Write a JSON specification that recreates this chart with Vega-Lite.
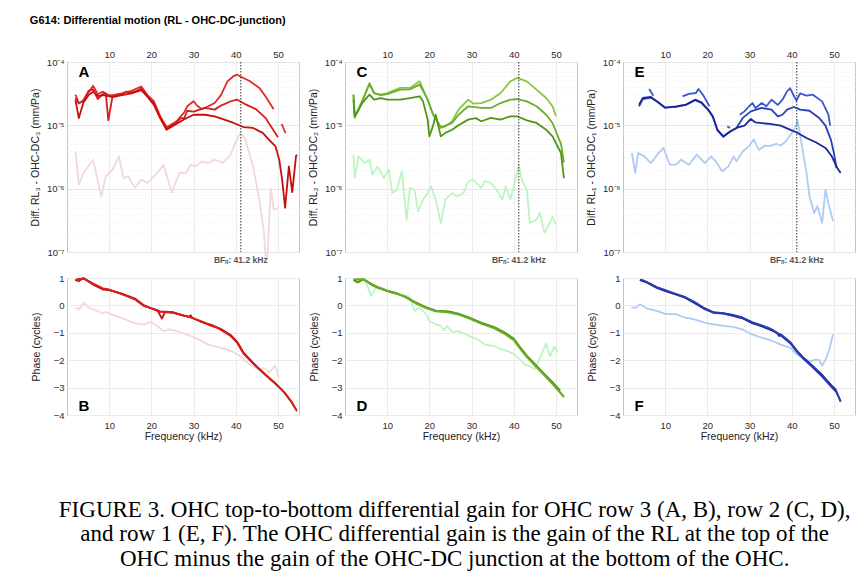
{
"$schema": "https://vega.github.io/schema/vega-lite/v6.json",
"background": "white",
"padding": {"left": 29, "top": 14, "right": 2, "bottom": 5},
"config": {
  "font": "Liberation Sans",
  "view": {"stroke": "#c4c4c4", "strokeWidth": 1},
  "axis": {"labelFont": "Liberation Sans", "labelFontSize": 9.5, "labelColor": "#2a2a2a", "titleFont": "Liberation Sans", "titleFontSize": 10.5, "titleFontWeight": "normal", "titleColor": "#222", "gridColor": "#ebebeb", "domain": false, "ticks": false, "labelPadding": 3, "titlePadding": 6, "labelOverlap": false},
  "line": {"strokeWidth": 1.8, "strokeJoin": "round", "clip": true}
},
"title": {"text": ["FIGURE 3. OHC top-to-bottom differential gain for OHC row 3 (A, B), row 2 (C, D),", "and row 1 (E, F). The OHC differential gain is the gain of the RL at the top of the", "OHC minus the gain of the OHC-DC junction at the bottom of the OHC."], "orient": "bottom", "anchor": "middle", "dx": 12, "font": "Liberation Serif", "fontSize": 23, "fontWeight": "normal", "color": "#000", "lineHeight": 24.5, "offset": 56},
"datasets": {
"top1": [
{"s":"A4","f":2,"v":3.9e-6},{"s":"A4","f":2.8,"v":1.16e-6},{"s":"A4","f":3.9,"v":1.77e-6},{"s":"A4","f":6.2,"v":2.87e-6},{"s":"A4","f":8.1,"v":7.6e-7},{"s":"A4","f":9.2,"v":1.57e-6},{"s":"A4","f":10.8,"v":2.0e-6},{"s":"A4","f":12.3,"v":3.24e-6},{"s":"A4","f":13.4,"v":1.47e-6},{"s":"A4","f":14.5,"v":1.57e-6},{"s":"A4","f":16.1,"v":1.03e-6},{"s":"A4","f":17.6,"v":1.39e-6},{"s":"A4","f":19.1,"v":1.23e-6},{"s":"A4","f":21.4,"v":1.77e-6},{"s":"A4","f":22.9,"v":2.39e-6},{"s":"A4","f":24.8,"v":8.8e-7},{"s":"A4","f":26.7,"v":1.77e-6},{"s":"A4","f":28.2,"v":1.77e-6},{"s":"A4","f":29.3,"v":2.39e-6},{"s":"A4","f":30.5,"v":2.25e-6},{"s":"A4","f":32,"v":2.7e-6},{"s":"A4","f":33.5,"v":2.54e-6},{"s":"A4","f":35,"v":2.87e-6},{"s":"A4","f":36.9,"v":2.54e-6},{"s":"A4","f":38.8,"v":3.44e-6},{"s":"A4","f":39.9,"v":5.3e-6},{"s":"A4","f":41.1,"v":7.6e-6},{"s":"A4","f":42.2,"v":6.3e-6},{"s":"A4","f":44.1,"v":2.25e-6},{"s":"A4","f":45.6,"v":6.7e-7},{"s":"A4","f":46.7,"v":2.0e-7},{"s":"A4","f":47.1,"v":8e-8},{"s":"A4","f":47.5,"v":8e-8},{"s":"A4","f":48.3,"v":1.0e-6},{"s":"A4","f":49,"v":4.66e-7},{"s":"A4","f":50,"v":4.95e-7},
{"s":"A1","f":2,"v":3.05e-5},{"s":"A1","f":2.8,"v":2.25e-5},{"s":"A1","f":3.9,"v":2.4e-5},{"s":"A1","f":5.1,"v":3.3e-5},{"s":"A1","f":6.2,"v":4.2e-5},{"s":"A1","f":7.3,"v":3.1e-5},{"s":"A1","f":8.5,"v":3.4e-5},{"s":"A1","f":9.8,"v":3.0e-5},{"s":"A1","f":10.8,"v":3.0e-5},{"s":"A1","f":13,"v":3.2e-5},{"s":"A1","f":15.3,"v":3.5e-5},{"s":"A1","f":17.6,"v":4.1e-5},{"s":"A1","f":19.1,"v":3.0e-5},{"s":"A1","f":20.6,"v":2.4e-5},{"s":"A1","f":22.1,"v":1.4e-5},{"s":"A1","f":23.6,"v":9.4e-6},{"s":"A1","f":24.4,"v":1.0e-5},{"s":"A1","f":25.9,"v":1.15e-5},{"s":"A1","f":27.8,"v":1.6e-5},{"s":"A1","f":28.5,"v":2.0e-5},{"s":"A1","f":30,"v":2.4e-5},{"s":"A1","f":31,"v":2.0e-5},{"s":"A1","f":32,"v":1.8e-5},{"s":"A1","f":33.5,"v":2.0e-5},{"s":"A1","f":35,"v":2.25e-5},{"s":"A1","f":36.5,"v":3.0e-5},{"s":"A1","f":38,"v":4.9e-5},{"s":"A1","f":39.5,"v":6.0e-5},{"s":"A1","f":40.3,"v":6.3e-5},{"s":"A1","f":41.8,"v":5.6e-5},{"s":"A1","f":43.3,"v":5.0e-5},{"s":"A1","f":45.6,"v":3.9e-5},{"s":"A1","f":47,"v":2.9e-5},{"s":"A1","f":49,"v":1.8e-5},
{"s":"A1b","f":50.9,"v":1.05e-5},{"s":"A1b","f":51.8,"v":7.5e-6},
{"s":"A2","f":2,"v":2.7e-5},{"s":"A2","f":2.8,"v":2.2e-5},{"s":"A2","f":3.9,"v":2.5e-5},{"s":"A2","f":5.1,"v":3.5e-5},{"s":"A2","f":6.2,"v":3.7e-5},{"s":"A2","f":7.3,"v":2.6e-5},{"s":"A2","f":8.5,"v":3.1e-5},{"s":"A2","f":9.2,"v":3.2e-5},{"s":"A2","f":9.8,"v":1.2e-5},{"s":"A2","f":10.8,"v":2.9e-5},{"s":"A2","f":12,"v":3.0e-5},{"s":"A2","f":13,"v":3.1e-5},{"s":"A2","f":14,"v":3.4e-5},{"s":"A2","f":15.3,"v":3.3e-5},{"s":"A2","f":16.5,"v":3.5e-5},{"s":"A2","f":17.6,"v":3.8e-5},{"s":"A2","f":19.1,"v":2.9e-5},{"s":"A2","f":20.6,"v":2.2e-5},{"s":"A2","f":22.1,"v":1.3e-5},{"s":"A2","f":23.6,"v":8.8e-6},{"s":"A2","f":24.4,"v":9.6e-6},{"s":"A2","f":25.9,"v":1.1e-5},{"s":"A2","f":27,"v":1.3e-5},{"s":"A2","f":27.8,"v":1.3e-5},{"s":"A2","f":28.5,"v":1.7e-5},{"s":"A2","f":30,"v":1.65e-5},{"s":"A2","f":32.7,"v":1.88e-5},{"s":"A2","f":35,"v":1.77e-5},{"s":"A2","f":36.5,"v":2.05e-5},{"s":"A2","f":38.8,"v":2.4e-5},{"s":"A2","f":40.3,"v":2.55e-5},{"s":"A2","f":42.6,"v":2.1e-5},{"s":"A2","f":44.8,"v":1.8e-5},{"s":"A2","f":47.1,"v":1.3e-5},{"s":"A2","f":48.6,"v":9.1e-6},{"s":"A2","f":50,"v":6.5e-6},
{"s":"A3","f":2,"v":2.5e-5},{"s":"A3","f":2.8,"v":1.3e-5},{"s":"A3","f":3.9,"v":2.3e-5},{"s":"A3","f":5.1,"v":3.0e-5},{"s":"A3","f":6.2,"v":3.4e-5},{"s":"A3","f":7.3,"v":2.9e-5},{"s":"A3","f":8.5,"v":3.0e-5},{"s":"A3","f":9.8,"v":2.9e-5},{"s":"A3","f":10.8,"v":2.8e-5},{"s":"A3","f":13,"v":3.0e-5},{"s":"A3","f":15.3,"v":3.2e-5},{"s":"A3","f":17.6,"v":3.6e-5},{"s":"A3","f":19.1,"v":2.8e-5},{"s":"A3","f":20.6,"v":2.1e-5},{"s":"A3","f":22.1,"v":1.3e-5},{"s":"A3","f":23.6,"v":8.5e-6},{"s":"A3","f":24.4,"v":9.2e-6},{"s":"A3","f":25.9,"v":1.05e-5},{"s":"A3","f":27.8,"v":1.25e-5},{"s":"A3","f":30,"v":1.47e-5},{"s":"A3","f":32.7,"v":1.47e-5},{"s":"A3","f":35,"v":1.39e-5},{"s":"A3","f":37.3,"v":1.23e-5},{"s":"A3","f":39.5,"v":1.09e-5},{"s":"A3","f":41.8,"v":9.4e-6},{"s":"A3","f":44.1,"v":9.1e-6},{"s":"A3","f":46.4,"v":7.6e-6},{"s":"A3","f":47.9,"v":5.9e-6},{"s":"A3","f":49.4,"v":4.7e-6},{"s":"A3","f":50.3,"v":2.9e-6},{"s":"A3","f":51,"v":1.4e-6},{"s":"A3","f":51.7,"v":5.0e-7},{"s":"A3","f":52.6,"v":2.25e-6},{"s":"A3","f":53.4,"v":8.8e-7},{"s":"A3","f":54.3,"v":3.3e-6},{"s":"A3","f":54.6,"v":3.4e-6}
],
"top2": [
{"s":"C4","f":2,"v":3.44e-6},{"s":"C4","f":2.3,"v":1.47e-6},{"s":"C4","f":3.2,"v":3.24e-6},{"s":"C4","f":4.6,"v":2.54e-6},{"s":"C4","f":5.8,"v":2.87e-6},{"s":"C4","f":6.5,"v":1.66e-6},{"s":"C4","f":7.7,"v":2.25e-6},{"s":"C4","f":9.2,"v":1.47e-6},{"s":"C4","f":10.4,"v":2.0e-6},{"s":"C4","f":11.2,"v":8.5e-7},{"s":"C4","f":12.3,"v":9.6e-7},{"s":"C4","f":13.5,"v":1.88e-6},{"s":"C4","f":14.6,"v":3.24e-7},{"s":"C4","f":15.4,"v":1.03e-6},{"s":"C4","f":16.5,"v":9.6e-7},{"s":"C4","f":17.3,"v":4.39e-7},{"s":"C4","f":18.5,"v":6.7e-7},{"s":"C4","f":19.6,"v":8.5e-7},{"s":"C4","f":20.4,"v":1.09e-6},{"s":"C4","f":21.5,"v":6.7e-7},{"s":"C4","f":22.7,"v":2.87e-7},{"s":"C4","f":23.8,"v":6.7e-7},{"s":"C4","f":25.4,"v":8.5e-7},{"s":"C4","f":26.5,"v":7.6e-7},{"s":"C4","f":28.1,"v":8.5e-7},{"s":"C4","f":29.2,"v":1.31e-6},{"s":"C4","f":30.4,"v":1.39e-6},{"s":"C4","f":31.5,"v":1.16e-6},{"s":"C4","f":32.3,"v":1.03e-6},{"s":"C4","f":33.1,"v":1.31e-6},{"s":"C4","f":34.6,"v":1.23e-6},{"s":"C4","f":36.2,"v":9.1e-7},{"s":"C4","f":37.3,"v":6.7e-7},{"s":"C4","f":38.1,"v":1.09e-6},{"s":"C4","f":39.2,"v":6.7e-7},{"s":"C4","f":40.4,"v":1.39e-6},{"s":"C4","f":41.2,"v":2.39e-6},{"s":"C4","f":41.9,"v":1.39e-6},{"s":"C4","f":43.1,"v":9.6e-7},{"s":"C4","f":43.8,"v":2.87e-7},{"s":"C4","f":45.4,"v":3.24e-7},{"s":"C4","f":46.2,"v":4.13e-7},{"s":"C4","f":47.3,"v":2.0e-7},{"s":"C4","f":48.5,"v":2.87e-7},{"s":"C4","f":49.2,"v":3.6e-7},{"s":"C4","f":50,"v":2.7e-7},
{"s":"C1","f":2,"v":3.05e-5},{"s":"C1","f":2.3,"v":1.3e-5},{"s":"C1","f":3.1,"v":1.77e-5},{"s":"C1","f":4.2,"v":2.54e-5},{"s":"C1","f":5.8,"v":4.66e-5},{"s":"C1","f":6.9,"v":3.24e-5},{"s":"C1","f":8.5,"v":3.05e-5},{"s":"C1","f":10,"v":3.24e-5},{"s":"C1","f":13.1,"v":3.9e-5},{"s":"C1","f":15.4,"v":3.9e-5},{"s":"C1","f":17.7,"v":4.95e-5},{"s":"C1","f":19.6,"v":2.54e-5},{"s":"C1","f":20.9,"v":1.47e-5},{"s":"C1","f":21.8,"v":1.2e-5},{"s":"C1","f":22.7,"v":9.1e-6},{"s":"C1","f":23.8,"v":9.6e-6},{"s":"C1","f":25.4,"v":1.16e-5},{"s":"C1","f":26.9,"v":1.77e-5},{"s":"C1","f":29.2,"v":2.54e-5},{"s":"C1","f":30.5,"v":2.2e-5},{"s":"C1","f":32.3,"v":2.25e-5},{"s":"C1","f":34.6,"v":2.54e-5},{"s":"C1","f":36.9,"v":3.24e-5},{"s":"C1","f":39.2,"v":4.95e-5},{"s":"C1","f":40.8,"v":5.6e-5},{"s":"C1","f":43.1,"v":4.95e-5},{"s":"C1","f":45.4,"v":3.66e-5},{"s":"C1","f":47.7,"v":2.7e-5},{"s":"C1","f":49.2,"v":2.0e-5},{"s":"C1","f":50,"v":1.39e-5},
{"s":"C2","f":2,"v":3.05e-5},{"s":"C2","f":2.3,"v":1.4e-5},{"s":"C2","f":3.1,"v":1.7e-5},{"s":"C2","f":4.2,"v":2.5e-5},{"s":"C2","f":5.8,"v":4.5e-5},{"s":"C2","f":6.9,"v":3.2e-5},{"s":"C2","f":8.5,"v":3.0e-5},{"s":"C2","f":10,"v":3.1e-5},{"s":"C2","f":13.1,"v":3.66e-5},{"s":"C2","f":15.4,"v":3.7e-5},{"s":"C2","f":17.7,"v":4.39e-5},{"s":"C2","f":19.6,"v":2.54e-5},{"s":"C2","f":20.9,"v":1.47e-5},{"s":"C2","f":22.7,"v":9.4e-6},{"s":"C2","f":23.8,"v":9.9e-6},{"s":"C2","f":25.4,"v":1.09e-5},{"s":"C2","f":26.9,"v":1.47e-5},{"s":"C2","f":29.2,"v":2.0e-5},{"s":"C2","f":32.3,"v":1.88e-5},{"s":"C2","f":34.6,"v":1.88e-5},{"s":"C2","f":36.9,"v":2.25e-5},{"s":"C2","f":39.2,"v":2.54e-5},{"s":"C2","f":40.8,"v":2.6e-5},{"s":"C2","f":43.1,"v":2.39e-5},{"s":"C2","f":45.4,"v":2.0e-5},{"s":"C2","f":47.7,"v":1.47e-5},{"s":"C2","f":49.2,"v":1.09e-5},{"s":"C2","f":51.2,"v":5.1e-6},{"s":"C2","f":51.9,"v":2.6e-6},
{"s":"C3","f":2,"v":2.54e-5},{"s":"C3","f":2.3,"v":1.4e-5},{"s":"C3","f":3.1,"v":1.7e-5},{"s":"C3","f":4.2,"v":2.3e-5},{"s":"C3","f":5.8,"v":3.05e-5},{"s":"C3","f":6.9,"v":2.54e-5},{"s":"C3","f":8.5,"v":2.7e-5},{"s":"C3","f":10,"v":2.54e-5},{"s":"C3","f":13.1,"v":2.54e-5},{"s":"C3","f":15.4,"v":2.7e-5},{"s":"C3","f":17.7,"v":2.87e-5},{"s":"C3","f":18.5,"v":2.39e-5},{"s":"C3","f":19.6,"v":1.23e-5},{"s":"C3","f":20,"v":6.7e-6},{"s":"C3","f":20.9,"v":1.0e-5},{"s":"C3","f":21.5,"v":1.47e-5},{"s":"C3","f":22.7,"v":6.7e-6},{"s":"C3","f":23.8,"v":7.6e-6},{"s":"C3","f":25.4,"v":8.5e-6},{"s":"C3","f":26.9,"v":1.0e-5},{"s":"C3","f":29.2,"v":1.23e-5},{"s":"C3","f":31,"v":1.3e-5},{"s":"C3","f":32.3,"v":1.16e-5},{"s":"C3","f":34.6,"v":1.31e-5},{"s":"C3","f":36.9,"v":1.23e-5},{"s":"C3","f":39.2,"v":1.39e-5},{"s":"C3","f":40.8,"v":1.39e-5},{"s":"C3","f":43.1,"v":1.2e-5},{"s":"C3","f":45.4,"v":1.09e-5},{"s":"C3","f":47.7,"v":8.5e-6},{"s":"C3","f":49.2,"v":6.7e-6},{"s":"C3","f":51.2,"v":3.66e-6},{"s":"C3","f":51.9,"v":1.47e-6}
],
"top3": [
{"s":"E4","f":2.1,"v":3.66e-6},{"s":"E4","f":2.9,"v":1.77e-6},{"s":"E4","f":3.6,"v":3.66e-6},{"s":"E4","f":5.1,"v":3.24e-6},{"s":"E4","f":6.6,"v":2.54e-6},{"s":"E4","f":8.1,"v":3.44e-6},{"s":"E4","f":9.6,"v":4.4e-6},{"s":"E4","f":11.1,"v":2.39e-6},{"s":"E4","f":12.6,"v":2.39e-6},{"s":"E4","f":13.8,"v":2.87e-6},{"s":"E4","f":15.6,"v":2.39e-6},{"s":"E4","f":17.5,"v":3.44e-6},{"s":"E4","f":19.4,"v":2.54e-6},{"s":"E4","f":20.9,"v":3.24e-6},{"s":"E4","f":22,"v":2.7e-6},{"s":"E4","f":23.5,"v":1.88e-6},{"s":"E4","f":25,"v":2.25e-6},{"s":"E4","f":26.2,"v":3.24e-6},{"s":"E4","f":26.9,"v":2.7e-6},{"s":"E4","f":28.4,"v":3.9e-6},{"s":"E4","f":29.9,"v":4.7e-6},{"s":"E4","f":31,"v":6.0e-6},{"s":"E4","f":32.2,"v":4.1e-6},{"s":"E4","f":33.7,"v":4.8e-6},{"s":"E4","f":34.8,"v":4.7e-6},{"s":"E4","f":36.3,"v":5.1e-6},{"s":"E4","f":37.4,"v":4.8e-6},{"s":"E4","f":38.6,"v":5.6e-6},{"s":"E4","f":39.7,"v":7.1e-6},{"s":"E4","f":40.8,"v":9.1e-6},{"s":"E4","f":41.4,"v":1.2e-5},{"s":"E4","f":42.3,"v":5.3e-6},{"s":"E4","f":43.5,"v":1.77e-6},{"s":"E4","f":44.2,"v":7.6e-7},{"s":"E4","f":45.3,"v":4.13e-7},{"s":"E4","f":46.1,"v":5.3e-7},{"s":"E4","f":47.2,"v":2.87e-7},{"s":"E4","f":48,"v":9.6e-7},{"s":"E4","f":48.7,"v":5.9e-7},{"s":"E4","f":49.8,"v":3.05e-7},
{"s":"E1","f":6.2,"v":3.75e-5},{"s":"E1","f":7.2,"v":2.94e-5},
{"s":"E1b","f":14.1,"v":2.87e-5},{"s":"E1b","f":15.6,"v":3.13e-5},{"s":"E1b","f":17.3,"v":3.24e-5},{"s":"E1b","f":17.9,"v":3.75e-5},{"s":"E1b","f":19,"v":3.0e-5},{"s":"E1b","f":20.5,"v":2.0e-5},
{"s":"E1c","f":24.7,"v":9.6e-6},{"s":"E1c","f":25.4,"v":9.1e-6},
{"s":"E1d","f":27.7,"v":1.47e-5},{"s":"E1d","f":28.8,"v":1.66e-5},{"s":"E1d","f":29.9,"v":2.0e-5},{"s":"E1d","f":30.7,"v":2.25e-5},{"s":"E1d","f":31.4,"v":1.88e-5},{"s":"E1d","f":32.9,"v":2.25e-5},{"s":"E1d","f":34,"v":2.0e-5},{"s":"E1d","f":35.2,"v":2.54e-5},{"s":"E1d","f":36.7,"v":2.1e-5},{"s":"E1d","f":37.8,"v":2.54e-5},{"s":"E1d","f":38.9,"v":3.44e-5},{"s":"E1d","f":39.6,"v":3.85e-5},{"s":"E1d","f":41.1,"v":2.45e-5},{"s":"E1d","f":42,"v":3.2e-5},{"s":"E1d","f":43.5,"v":2.94e-5},{"s":"E1d","f":45,"v":3.05e-5},{"s":"E1d","f":47.2,"v":2.39e-5},{"s":"E1d","f":48.7,"v":1.47e-5},{"s":"E1d","f":49.1,"v":9.9e-6},
{"s":"E2","f":3.8,"v":2.0e-5},{"s":"E2","f":4.7,"v":2.6e-5},{"s":"E2","f":6.6,"v":2.75e-5},{"s":"E2","f":8.1,"v":2.35e-5},{"s":"E2","f":10,"v":1.9e-5},{"s":"E2","f":12.6,"v":1.95e-5},{"s":"E2","f":14.9,"v":2.1e-5},{"s":"E2","f":17.1,"v":2.5e-5},{"s":"E2","f":18.6,"v":2.25e-5},{"s":"E2","f":20.2,"v":1.75e-5},{"s":"E2","f":21.3,"v":1.35e-5},{"s":"E2","f":22.4,"v":8.3e-6},{"s":"E2","f":23.8,"v":6.6e-6},{"s":"E2","f":25.4,"v":8.0e-6},{"s":"E2","f":26.9,"v":9.1e-6},{"s":"E2","f":28.4,"v":1.31e-5},{"s":"E2","f":30.3,"v":1.66e-5},{"s":"E2","f":32.9,"v":1.88e-5},{"s":"E2","f":35.2,"v":1.77e-5},{"s":"E2","f":36.7,"v":1.39e-5},{"s":"E2","f":37.8,"v":1.47e-5},{"s":"E2","f":38.9,"v":1.77e-5},{"s":"E2","f":40.5,"v":1.95e-5},{"s":"E2","f":42,"v":1.77e-5},{"s":"E2","f":44.2,"v":1.7e-5},{"s":"E2","f":46.5,"v":1.31e-5},{"s":"E2","f":48,"v":9.9e-6},{"s":"E2","f":49.3,"v":5.9e-6},{"s":"E2","f":50,"v":3.66e-6},{"s":"E2","f":50.6,"v":2.12e-6},
{"s":"E3","f":3.8,"v":2.12e-5},{"s":"E3","f":4.7,"v":2.7e-5},{"s":"E3","f":6.6,"v":2.8e-5},{"s":"E3","f":8.1,"v":2.39e-5},{"s":"E3","f":10,"v":1.9e-5},{"s":"E3","f":12.6,"v":2.0e-5},{"s":"E3","f":14.9,"v":2.12e-5},{"s":"E3","f":17.1,"v":2.54e-5},{"s":"E3","f":18.6,"v":2.3e-5},{"s":"E3","f":20.2,"v":1.77e-5},{"s":"E3","f":21.3,"v":1.39e-5},{"s":"E3","f":22.4,"v":8.5e-6},{"s":"E3","f":23.8,"v":6.7e-6},{"s":"E3","f":25.4,"v":8.0e-6},{"s":"E3","f":26.9,"v":9.1e-6},{"s":"E3","f":28.8,"v":9.9e-6},{"s":"E3","f":30.3,"v":1.26e-5},{"s":"E3","f":31.4,"v":1.11e-5},{"s":"E3","f":34.4,"v":1.06e-5},{"s":"E3","f":37.4,"v":9.9e-6},{"s":"E3","f":39.7,"v":8.5e-6},{"s":"E3","f":41.2,"v":7.7e-6},{"s":"E3","f":43.5,"v":6.3e-6},{"s":"E3","f":45.7,"v":5.4e-6},{"s":"E3","f":48,"v":4.4e-6},{"s":"E3","f":49.5,"v":3.24e-6},{"s":"E3","f":50.8,"v":2.12e-6},{"s":"E3","f":51.6,"v":1.77e-6}
],
"bot1": [
{"s":"B4","f":2,"v":-0.08},{"s":"B4","f":2.8,"v":-0.16},{"s":"B4","f":3.9,"v":0.1},{"s":"B4","f":5.1,"v":-0.08},{"s":"B4","f":6.2,"v":-0.14},{"s":"B4","f":8.5,"v":-0.29},{"s":"B4","f":9.2,"v":-0.24},{"s":"B4","f":11.5,"v":-0.385},{"s":"B4","f":13.8,"v":-0.51},{"s":"B4","f":16.1,"v":-0.655},{"s":"B4","f":18.3,"v":-0.69},{"s":"B4","f":19.8,"v":-0.6},{"s":"B4","f":21.4,"v":-0.75},{"s":"B4","f":22.9,"v":-0.94},{"s":"B4","f":24.4,"v":-0.875},{"s":"B4","f":26.7,"v":-0.97},{"s":"B4","f":29,"v":-1.1},{"s":"B4","f":31.2,"v":-1.24},{"s":"B4","f":33.5,"v":-1.43},{"s":"B4","f":35.8,"v":-1.52},{"s":"B4","f":38,"v":-1.61},{"s":"B4","f":39.5,"v":-1.71},{"s":"B4","f":41.1,"v":-1.86},{"s":"B4","f":43.3,"v":-2.16},{"s":"B4","f":45.6,"v":-2.35},{"s":"B4","f":46.7,"v":-2.28},{"s":"B4","f":47.9,"v":-2.44},{"s":"B4","f":49.4,"v":-2.2},{"s":"B4","f":50.2,"v":-2.65},
{"s":"B1","f":2,"v":0.94},{"s":"B1","f":2.8,"v":0.88},{"s":"B1","f":3.9,"v":1.0},{"s":"B1","f":6.2,"v":0.78},{"s":"B1","f":8.5,"v":0.6},{"s":"B1","f":10,"v":0.57},{"s":"B1","f":13,"v":0.41},{"s":"B1","f":16.1,"v":0.23},{"s":"B1","f":18.3,"v":-0.02},{"s":"B1","f":20.6,"v":-0.14},{"s":"B1","f":22.1,"v":-0.24},{"s":"B1","f":23.6,"v":-0.225},{"s":"B1","f":25.2,"v":-0.26},{"s":"B1","f":27.4,"v":-0.36},{"s":"B1","f":29.7,"v":-0.45},{"s":"B1","f":32,"v":-0.6},{"s":"B1","f":34.2,"v":-0.73},{"s":"B1","f":36.5,"v":-0.875},{"s":"B1","f":38.8,"v":-1.1},{"s":"B1","f":40.3,"v":-1.34},{"s":"B1","f":41.8,"v":-1.73},{"s":"B1","f":43.3,"v":-1.98},{"s":"B1","f":44.8,"v":-2.2},{"s":"B1","f":47.1,"v":-2.53},{"s":"B1","f":49.4,"v":-2.84},{"s":"B1","f":51.7,"v":-3.2},{"s":"B1","f":53.2,"v":-3.51},{"s":"B1","f":54.5,"v":-3.84},
{"s":"B2","f":2,"v":0.9},{"s":"B2","f":2.8,"v":0.97},{"s":"B2","f":3.9,"v":0.98},{"s":"B2","f":6.2,"v":0.76},{"s":"B2","f":8.5,"v":0.58},{"s":"B2","f":10,"v":0.56},{"s":"B2","f":13,"v":0.43},{"s":"B2","f":16.1,"v":0.25},{"s":"B2","f":18.3,"v":0.0},{"s":"B2","f":20.6,"v":-0.15},{"s":"B2","f":21.5,"v":-0.2},{"s":"B2","f":22.5,"v":-0.48},{"s":"B2","f":23.2,"v":-0.25},{"s":"B2","f":25.2,"v":-0.25},{"s":"B2","f":27.4,"v":-0.35},{"s":"B2","f":29,"v":-0.42},{"s":"B2","f":29.3,"v":-0.36},{"s":"B2","f":29.7,"v":-0.46},{"s":"B2","f":32,"v":-0.61},{"s":"B2","f":34.2,"v":-0.71},{"s":"B2","f":36.5,"v":-0.86},{"s":"B2","f":38.8,"v":-1.08},{"s":"B2","f":40.3,"v":-1.32},{"s":"B2","f":41.8,"v":-1.71},{"s":"B2","f":43.3,"v":-1.96},{"s":"B2","f":45,"v":-2.24},
{"s":"B3","f":2,"v":0.93},{"s":"B3","f":3.9,"v":0.99},{"s":"B3","f":6.2,"v":0.8},{"s":"B3","f":8.5,"v":0.62},{"s":"B3","f":10,"v":0.58},{"s":"B3","f":13,"v":0.42},{"s":"B3","f":16.1,"v":0.22},{"s":"B3","f":18.3,"v":-0.03},{"s":"B3","f":20.6,"v":-0.13},{"s":"B3","f":22.1,"v":-0.22},{"s":"B3","f":25.2,"v":-0.27},{"s":"B3","f":29.7,"v":-0.46},{"s":"B3","f":32,"v":-0.59},{"s":"B3","f":34.2,"v":-0.75},{"s":"B3","f":35.5,"v":-0.8},{"s":"B3","f":36.5,"v":-0.9},{"s":"B3","f":38.8,"v":-1.12},{"s":"B3","f":40.3,"v":-1.36},{"s":"B3","f":41.8,"v":-1.75},{"s":"B3","f":43.3,"v":-2.0},{"s":"B3","f":44.8,"v":-2.22},{"s":"B3","f":47.1,"v":-2.55},{"s":"B3","f":49.4,"v":-2.86},{"s":"B3","f":51,"v":-3.1},{"s":"B3","f":51.7,"v":-3.22},{"s":"B3","f":53.2,"v":-3.53},{"s":"B3","f":54.5,"v":-3.86}
],
"bot2": [
{"s":"D4","f":2,"v":0.94},{"s":"D4","f":2.7,"v":0.82},{"s":"D4","f":4,"v":0.96},{"s":"D4","f":5,"v":0.82},{"s":"D4","f":6.2,"v":0.35},{"s":"D4","f":7.3,"v":0.66},{"s":"D4","f":9.2,"v":0.6},{"s":"D4","f":10.8,"v":0.47},{"s":"D4","f":12.3,"v":0.41},{"s":"D4","f":13.8,"v":0.375},{"s":"D4","f":15,"v":0.35},{"s":"D4","f":15.4,"v":0.29},{"s":"D4","f":16.5,"v":-0.2},{"s":"D4","f":17.7,"v":-0.08},{"s":"D4","f":19.2,"v":-0.32},{"s":"D4","f":20,"v":-0.57},{"s":"D4","f":21.5,"v":-0.69},{"s":"D4","f":22.7,"v":-0.75},{"s":"D4","f":23.5,"v":-0.9},{"s":"D4","f":24.2,"v":-0.75},{"s":"D4","f":25.4,"v":-0.97},{"s":"D4","f":26.9,"v":-0.94},{"s":"D4","f":29.2,"v":-1.1},{"s":"D4","f":31.5,"v":-1.24},{"s":"D4","f":33.1,"v":-1.43},{"s":"D4","f":35.4,"v":-1.49},{"s":"D4","f":36.9,"v":-1.59},{"s":"D4","f":38.5,"v":-1.67},{"s":"D4","f":40,"v":-1.77},{"s":"D4","f":41.5,"v":-1.98},{"s":"D4","f":42.7,"v":-2.16},{"s":"D4","f":43.8,"v":-2.22},{"s":"D4","f":45,"v":-2.32},{"s":"D4","f":46.2,"v":-1.92},{"s":"D4","f":47.7,"v":-1.39},{"s":"D4","f":48.6,"v":-1.86},{"s":"D4","f":49.6,"v":-1.51},{"s":"D4","f":50.4,"v":-1.71},
{"s":"D1","f":2,"v":0.94},{"s":"D1","f":3.1,"v":0.84},{"s":"D1","f":4.3,"v":0.96},{"s":"D1","f":6.2,"v":0.78},{"s":"D1","f":7.7,"v":0.66},{"s":"D1","f":10,"v":0.53},{"s":"D1","f":12.3,"v":0.44},{"s":"D1","f":14.6,"v":0.29},{"s":"D1","f":16.9,"v":0.08},{"s":"D1","f":19.2,"v":-0.08},{"s":"D1","f":21.5,"v":-0.2},{"s":"D1","f":24.6,"v":-0.24},{"s":"D1","f":26.9,"v":-0.32},{"s":"D1","f":29.2,"v":-0.45},{"s":"D1","f":32.3,"v":-0.655},{"s":"D1","f":35.4,"v":-0.81},{"s":"D1","f":37.7,"v":-1.0},{"s":"D1","f":40,"v":-1.24},{"s":"D1","f":41.5,"v":-1.55},{"s":"D1","f":43.1,"v":-1.86},{"s":"D1","f":44.6,"v":-2.1},{"s":"D1","f":46.9,"v":-2.47},{"s":"D1","f":49.2,"v":-2.84},{"s":"D1","f":51.9,"v":-3.33},
{"s":"D2","f":2,"v":0.92},{"s":"D2","f":3.1,"v":0.86},{"s":"D2","f":4.3,"v":0.95},{"s":"D2","f":6.2,"v":0.76},{"s":"D2","f":7.7,"v":0.65},{"s":"D2","f":10,"v":0.52},{"s":"D2","f":12.3,"v":0.42},{"s":"D2","f":14.6,"v":0.3},{"s":"D2","f":16.9,"v":0.1},{"s":"D2","f":19.2,"v":-0.06},{"s":"D2","f":21.5,"v":-0.19},{"s":"D2","f":24.6,"v":-0.22},{"s":"D2","f":26.9,"v":-0.3},{"s":"D2","f":29.2,"v":-0.43},{"s":"D2","f":32.3,"v":-0.63},{"s":"D2","f":35.4,"v":-0.79},{"s":"D2","f":37.7,"v":-0.97},{"s":"D2","f":40,"v":-1.21},{"s":"D2","f":41.5,"v":-1.52},{"s":"D2","f":43.1,"v":-1.83},{"s":"D2","f":44.6,"v":-2.07},{"s":"D2","f":46.9,"v":-2.44},{"s":"D2","f":49.2,"v":-2.8},{"s":"D2","f":51,"v":-3.1},
{"s":"D3","f":2,"v":0.95},{"s":"D3","f":4.3,"v":0.97},{"s":"D3","f":6.2,"v":0.8},{"s":"D3","f":7.7,"v":0.68},{"s":"D3","f":10,"v":0.55},{"s":"D3","f":12.3,"v":0.45},{"s":"D3","f":14.6,"v":0.27},{"s":"D3","f":16.9,"v":0.06},{"s":"D3","f":19.2,"v":-0.1},{"s":"D3","f":21.5,"v":-0.22},{"s":"D3","f":24.6,"v":-0.26},{"s":"D3","f":26.9,"v":-0.34},{"s":"D3","f":29.2,"v":-0.47},{"s":"D3","f":32.3,"v":-0.67},{"s":"D3","f":35.4,"v":-0.84},{"s":"D3","f":37.7,"v":-1.03},{"s":"D3","f":40,"v":-1.27},{"s":"D3","f":41.5,"v":-1.58},{"s":"D3","f":43.1,"v":-1.89},{"s":"D3","f":44.6,"v":-2.13},{"s":"D3","f":46.9,"v":-2.5},{"s":"D3","f":49.2,"v":-2.87},{"s":"D3","f":51.9,"v":-3.35}
],
"bot3": [
{"s":"F4","f":2,"v":-0.08},{"s":"F4","f":3.1,"v":-0.08},{"s":"F4","f":4,"v":0.04},{"s":"F4","f":5.7,"v":-0.115},{"s":"F4","f":8,"v":-0.2},{"s":"F4","f":10.2,"v":-0.32},{"s":"F4","f":12.5,"v":-0.32},{"s":"F4","f":14.8,"v":-0.45},{"s":"F4","f":17,"v":-0.51},{"s":"F4","f":19.3,"v":-0.63},{"s":"F4","f":21.5,"v":-0.69},{"s":"F4","f":23.8,"v":-0.75},{"s":"F4","f":26.1,"v":-0.78},{"s":"F4","f":28.3,"v":-0.875},{"s":"F4","f":30.6,"v":-1.06},{"s":"F4","f":32.9,"v":-1.18},{"s":"F4","f":35.1,"v":-1.28},{"s":"F4","f":37.4,"v":-1.43},{"s":"F4","f":39.7,"v":-1.55},{"s":"F4","f":41.2,"v":-1.79},{"s":"F4","f":42.7,"v":-1.92},{"s":"F4","f":44.2,"v":-2.04},{"s":"F4","f":45.7,"v":-1.98},{"s":"F4","f":46.5,"v":-2.0},{"s":"F4","f":47.2,"v":-2.2},{"s":"F4","f":48,"v":-1.98},{"s":"F4","f":48.9,"v":-1.61},{"s":"F4","f":49.8,"v":-1.06},
{"s":"F1","f":4,"v":0.94},{"s":"F1","f":5.7,"v":0.84},{"s":"F1","f":8,"v":0.66},{"s":"F1","f":10.2,"v":0.53},{"s":"F1","f":12.5,"v":0.41},{"s":"F1","f":14.8,"v":0.29},{"s":"F1","f":17,"v":0.105},{"s":"F1","f":19.3,"v":-0.115},{"s":"F1","f":21.5,"v":-0.26},{"s":"F1","f":23.8,"v":-0.29},{"s":"F1","f":26.1,"v":-0.36},{"s":"F1","f":28.3,"v":-0.45},{"s":"F1","f":30.6,"v":-0.63},{"s":"F1","f":32.9,"v":-0.75},{"s":"F1","f":35.1,"v":-0.875},{"s":"F1","f":37.4,"v":-1.1},{"s":"F1","f":39.7,"v":-1.37},{"s":"F1","f":41.2,"v":-1.67},{"s":"F1","f":42.7,"v":-1.92},{"s":"F1","f":44.9,"v":-2.22},{"s":"F1","f":47.2,"v":-2.53},{"s":"F1","f":49.5,"v":-2.96},{"s":"F1","f":50.6,"v":-3.14},{"s":"F1","f":51.6,"v":-3.51},
{"s":"F2","f":4,"v":0.92},{"s":"F2","f":5.7,"v":0.83},{"s":"F2","f":8,"v":0.64},{"s":"F2","f":10.2,"v":0.51},{"s":"F2","f":12.5,"v":0.4},{"s":"F2","f":14.8,"v":0.27},{"s":"F2","f":17,"v":0.08},{"s":"F2","f":19.3,"v":-0.13},{"s":"F2","f":21.5,"v":-0.27},{"s":"F2","f":23.8,"v":-0.3},{"s":"F2","f":26.1,"v":-0.38},{"s":"F2","f":28.3,"v":-0.47},{"s":"F2","f":30.6,"v":-0.65},{"s":"F2","f":32.9,"v":-0.77},{"s":"F2","f":35.1,"v":-0.9},{"s":"F2","f":36.5,"v":-1.0},{"s":"F2","f":37,"v":-1.12},{"s":"F2","f":37.4,"v":-1.05},{"s":"F2","f":39.7,"v":-1.35},{"s":"F2","f":41.2,"v":-1.65},{"s":"F2","f":42.7,"v":-1.9},{"s":"F2","f":44.9,"v":-2.2},{"s":"F2","f":47.2,"v":-2.55},{"s":"F2","f":49.5,"v":-2.93},{"s":"F2","f":50.6,"v":-3.1},
{"s":"F3","f":4.5,"v":0.93},{"s":"F3","f":5.7,"v":0.85},{"s":"F3","f":8,"v":0.67},{"s":"F3","f":10.2,"v":0.55},{"s":"F3","f":12.5,"v":0.42},{"s":"F3","f":14.8,"v":0.3},{"s":"F3","f":17,"v":0.12},{"s":"F3","f":19.3,"v":-0.1},{"s":"F3","f":21.5,"v":-0.25},{"s":"F3","f":23.8,"v":-0.28},{"s":"F3","f":26.1,"v":-0.35},{"s":"F3","f":28.3,"v":-0.44},{"s":"F3","f":30.6,"v":-0.61},{"s":"F3","f":32.9,"v":-0.73},{"s":"F3","f":35.1,"v":-0.86},{"s":"F3","f":37.4,"v":-1.08},{"s":"F3","f":39.7,"v":-1.39},{"s":"F3","f":41.2,"v":-1.69},{"s":"F3","f":42.7,"v":-1.94},{"s":"F3","f":44.9,"v":-2.25},{"s":"F3","f":47.2,"v":-2.6},{"s":"F3","f":49.5,"v":-2.99},{"s":"F3","f":50.6,"v":-3.17},{"s":"F3","f":51.6,"v":-3.5}
]
},
"vconcat": [{
"title": {"text": "G614: Differential motion (RL - OHC-DC-junction)", "anchor": "start", "fontSize": 11, "fontWeight": "bold", "color": "#000", "offset": 23, "frame": "bounds"},
"columns": 3,
"bounds": "flush",
"spacing": {"row": 26, "column": 46},
"concat": [
 {"width": 232, "height": 190, "data": {"name": "top1"}, "layer": [
  {"mark": {"type": "line"}, "encoding": {
   "x": {"field": "f", "type": "quantitative", "scale": {"domain": [2, 55]}, "axis": {"orient": "top", "values": [10, 20, 30, 40, 50], "tickCount": 10, "title": null}},
   "y": {"field": "v", "type": "quantitative", "scale": {"type": "log", "domain": [1e-7, 1e-4]}, "axis": {"title": "Diff. RL₃ - OHC-DC₃ (mm/Pa)", "tickCount": 40, "values": [1e-7,2e-7,3e-7,4e-7,5e-7,6e-7,7e-7,8e-7,9e-7,1e-6,2e-6,3e-6,4e-6,5e-6,6e-6,7e-6,8e-6,9e-6,1e-5,2e-5,3e-5,4e-5,5e-5,6e-5,7e-5,8e-5,9e-5,1e-4], "labelExpr": "datum.value == 1e-4 ? '10⁻⁴' : datum.value == 1e-5 ? '10⁻⁵' : datum.value == 1e-6 ? '10⁻⁶' : datum.value == 1e-7 ? '10⁻⁷' : ''", "gridColor": {"condition": {"test": "datum.value == 1e-4 || datum.value == 1e-5 || datum.value == 1e-6 || datum.value == 1e-7", "value": "#e4e4e4"}, "value": "#efefef"}, "gridDash": {"condition": {"test": "datum.value == 1e-4 || datum.value == 1e-5 || datum.value == 1e-6 || datum.value == 1e-7", "value": []}, "value": [1, 2]}}},
   "color": {"field": "s", "type": "nominal", "legend": null, "scale": {"domain": ["A4","A1","A1b","A2","A3","B4","B1","B2","B3","C4","C1","C2","C3","D4","D1","D2","D3","E4","E1","E1b","E1c","E1d","E2","E3","F4","F1","F2","F3"], "range": ["#f2d8d8","#e22a2a","#e22a2a","#d41e1e","#c40f0f","#f2d8d8","#d01818","#c81010","#d42020","#bdf5c0","#8cc63f","#6cad2a","#4f9615","#bdf5c0","#63a524","#58991b","#6fae2c","#aecbf2","#3b56d4","#3b56d4","#3b56d4","#3b56d4","#2a3fb6","#1b2b96","#aecbf2","#2436a8","#1e2f9c","#2a3db2"]}}}},
  {"data": {"values": [{}]}, "mark": {"type": "rule", "strokeDash": [1.5, 1.5], "color": "#333", "strokeWidth": 1}, "encoding": {"x": {"datum": 41.2}}},
  {"data": {"values": [{}]}, "mark": {"type": "text", "text": "A", "align": "left", "baseline": "top", "fontWeight": "bold", "fontSize": 15, "dx": 3, "dy": 3, "color": "#000"}, "encoding": {"x": {"datum": 2}, "y": {"datum": 1e-4}}},
  {"data": {"values": [{}]}, "mark": {"type": "text", "text": "BFᵣₗ: 41.2 kHz", "align": "center", "baseline": "top", "fontWeight": "bold", "fontSize": 8.5, "dy": 4, "color": "#555"}, "encoding": {"x": {"datum": 41.2}, "y": {"datum": 1e-7}}}
 ]},
 {"width": 232, "height": 190, "data": {"name": "top2"}, "layer": [
  {"mark": {"type": "line"}, "encoding": {
   "x": {"field": "f", "type": "quantitative", "scale": {"domain": [2, 55]}, "axis": {"orient": "top", "values": [10, 20, 30, 40, 50], "tickCount": 10, "title": null}},
   "y": {"field": "v", "type": "quantitative", "scale": {"type": "log", "domain": [1e-7, 1e-4]}, "axis": {"title": "Diff. RL₂ - OHC-DC₂ (mm/Pa)", "tickCount": 40, "values": [1e-7,2e-7,3e-7,4e-7,5e-7,6e-7,7e-7,8e-7,9e-7,1e-6,2e-6,3e-6,4e-6,5e-6,6e-6,7e-6,8e-6,9e-6,1e-5,2e-5,3e-5,4e-5,5e-5,6e-5,7e-5,8e-5,9e-5,1e-4], "labelExpr": "datum.value == 1e-4 ? '10⁻⁴' : datum.value == 1e-5 ? '10⁻⁵' : datum.value == 1e-6 ? '10⁻⁶' : datum.value == 1e-7 ? '10⁻⁷' : ''", "gridColor": {"condition": {"test": "datum.value == 1e-4 || datum.value == 1e-5 || datum.value == 1e-6 || datum.value == 1e-7", "value": "#e4e4e4"}, "value": "#efefef"}, "gridDash": {"condition": {"test": "datum.value == 1e-4 || datum.value == 1e-5 || datum.value == 1e-6 || datum.value == 1e-7", "value": []}, "value": [1, 2]}}},
   "color": {"field": "s", "type": "nominal", "legend": null}}},
  {"data": {"values": [{}]}, "mark": {"type": "rule", "strokeDash": [1.5, 1.5], "color": "#333", "strokeWidth": 1}, "encoding": {"x": {"datum": 41.2}}},
  {"data": {"values": [{}]}, "mark": {"type": "text", "text": "C", "align": "left", "baseline": "top", "fontWeight": "bold", "fontSize": 15, "dx": 3, "dy": 3, "color": "#000"}, "encoding": {"x": {"datum": 2}, "y": {"datum": 1e-4}}},
  {"data": {"values": [{}]}, "mark": {"type": "text", "text": "BFᵣₗ: 41.2 kHz", "align": "center", "baseline": "top", "fontWeight": "bold", "fontSize": 8.5, "dy": 4, "color": "#555"}, "encoding": {"x": {"datum": 41.2}, "y": {"datum": 1e-7}}}
 ]},
 {"width": 232, "height": 190, "data": {"name": "top3"}, "layer": [
  {"mark": {"type": "line"}, "encoding": {
   "x": {"field": "f", "type": "quantitative", "scale": {"domain": [2, 55]}, "axis": {"orient": "top", "values": [10, 20, 30, 40, 50], "tickCount": 10, "title": null}},
   "y": {"field": "v", "type": "quantitative", "scale": {"type": "log", "domain": [1e-7, 1e-4]}, "axis": {"title": "Diff. RL₁ - OHC-DC₁ (mm/Pa)", "tickCount": 40, "values": [1e-7,2e-7,3e-7,4e-7,5e-7,6e-7,7e-7,8e-7,9e-7,1e-6,2e-6,3e-6,4e-6,5e-6,6e-6,7e-6,8e-6,9e-6,1e-5,2e-5,3e-5,4e-5,5e-5,6e-5,7e-5,8e-5,9e-5,1e-4], "labelExpr": "datum.value == 1e-4 ? '10⁻⁴' : datum.value == 1e-5 ? '10⁻⁵' : datum.value == 1e-6 ? '10⁻⁶' : datum.value == 1e-7 ? '10⁻⁷' : ''", "gridColor": {"condition": {"test": "datum.value == 1e-4 || datum.value == 1e-5 || datum.value == 1e-6 || datum.value == 1e-7", "value": "#e4e4e4"}, "value": "#efefef"}, "gridDash": {"condition": {"test": "datum.value == 1e-4 || datum.value == 1e-5 || datum.value == 1e-6 || datum.value == 1e-7", "value": []}, "value": [1, 2]}}},
   "color": {"field": "s", "type": "nominal", "legend": null}}},
  {"data": {"values": [{}]}, "mark": {"type": "rule", "strokeDash": [1.5, 1.5], "color": "#333", "strokeWidth": 1}, "encoding": {"x": {"datum": 41.2}}},
  {"data": {"values": [{}]}, "mark": {"type": "text", "text": "E", "align": "left", "baseline": "top", "fontWeight": "bold", "fontSize": 15, "dx": 3, "dy": 3, "color": "#000"}, "encoding": {"x": {"datum": 2}, "y": {"datum": 1e-4}}},
  {"data": {"values": [{}]}, "mark": {"type": "text", "text": "BFᵣₗ: 41.2 kHz", "align": "center", "baseline": "top", "fontWeight": "bold", "fontSize": 8.5, "dy": 4, "color": "#555"}, "encoding": {"x": {"datum": 41.2}, "y": {"datum": 1e-7}}}
 ]},
 {"width": 232, "height": 137, "data": {"name": "bot1"}, "layer": [
  {"mark": {"type": "line"}, "encoding": {
   "x": {"field": "f", "type": "quantitative", "scale": {"domain": [2, 55]}, "axis": {"values": [10, 20, 30, 40, 50], "tickCount": 10, "title": "Frequency (kHz)", "labelPadding": 5, "titlePadding": 2}},
   "y": {"field": "v", "type": "quantitative", "scale": {"domain": [-4, 1]}, "axis": {"values": [-4, -3, -2, -1, 0, 1], "tickCount": 10, "format": "d", "title": "Phase (cycles)", "titlePadding": 12}},
   "color": {"field": "s", "type": "nominal", "legend": null}}},
  {"data": {"values": [{}]}, "mark": {"type": "text", "text": "B", "align": "left", "baseline": "alphabetic", "fontWeight": "bold", "fontSize": 15, "dx": 3, "dy": -4, "color": "#000"}, "encoding": {"x": {"datum": 2}, "y": {"datum": -4}}}
 ]},
 {"width": 232, "height": 137, "data": {"name": "bot2"}, "layer": [
  {"mark": {"type": "line"}, "encoding": {
   "x": {"field": "f", "type": "quantitative", "scale": {"domain": [2, 55]}, "axis": {"values": [10, 20, 30, 40, 50], "tickCount": 10, "title": "Frequency (kHz)", "labelPadding": 5, "titlePadding": 2}},
   "y": {"field": "v", "type": "quantitative", "scale": {"domain": [-4, 1]}, "axis": {"values": [-4, -3, -2, -1, 0, 1], "tickCount": 10, "format": "d", "title": "Phase (cycles)", "titlePadding": 12}},
   "color": {"field": "s", "type": "nominal", "legend": null}}},
  {"data": {"values": [{}]}, "mark": {"type": "text", "text": "D", "align": "left", "baseline": "alphabetic", "fontWeight": "bold", "fontSize": 15, "dx": 3, "dy": -4, "color": "#000"}, "encoding": {"x": {"datum": 2}, "y": {"datum": -4}}}
 ]},
 {"width": 232, "height": 137, "data": {"name": "bot3"}, "layer": [
  {"mark": {"type": "line"}, "encoding": {
   "x": {"field": "f", "type": "quantitative", "scale": {"domain": [2, 55]}, "axis": {"values": [10, 20, 30, 40, 50], "tickCount": 10, "title": "Frequency (kHz)", "labelPadding": 5, "titlePadding": 2}},
   "y": {"field": "v", "type": "quantitative", "scale": {"domain": [-4, 1]}, "axis": {"values": [-4, -3, -2, -1, 0, 1], "tickCount": 10, "format": "d", "title": "Phase (cycles)", "titlePadding": 12}},
   "color": {"field": "s", "type": "nominal", "legend": null}}},
  {"data": {"values": [{}]}, "mark": {"type": "text", "text": "F", "align": "left", "baseline": "alphabetic", "fontWeight": "bold", "fontSize": 15, "dx": 3, "dy": -4, "color": "#000"}, "encoding": {"x": {"datum": 2}, "y": {"datum": -4}}}
 ]}
]
}]
}
